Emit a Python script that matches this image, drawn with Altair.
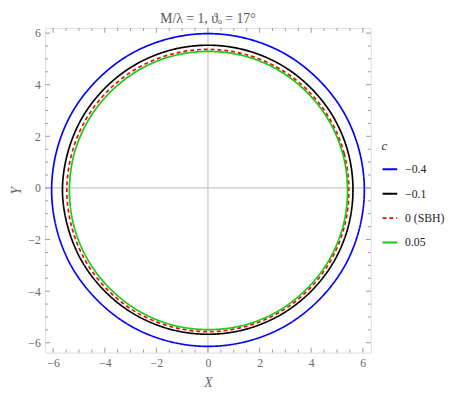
import altair as alt
import pandas as pd

# ---- data ----
curve_names = ["−0.4", "−0.1", "0 (SBH)", "0.05"]
curve_colors = ["#0000ff", "#000000", "#ff0000", "#11cc11"]

blue_x = [6.06, 5.85, 5.25, 4.28, 3.03, 1.57, 0.0, -1.57, -3.03, -4.28, -5.25, -5.85,
          -6.06, -5.85, -5.25, -4.28, -3.03, -1.57, 0.0, 1.57, 3.03, 4.28, 5.25, 5.85]
blue_y = [-0.08, 1.49, 2.95, 4.20, 5.17, 5.77, 5.98, 5.77, 5.17, 4.20, 2.95, 1.49,
          -0.08, -1.65, -3.11, -4.36, -5.33, -5.93, -6.14, -5.93, -5.33, -4.36, -3.11, -1.65]

black_x = [5.62, 5.43, 4.87, 3.97, 2.81, 1.45, 0.0, -1.45, -2.81, -3.97, -4.87, -5.43,
           -5.64, -5.43, -4.87, -3.97, -2.81, -1.45, 0.0, 1.45, 2.81, 3.97, 4.87, 5.43]
black_y = [-0.07, 1.38, 2.73, 3.89, 4.78, 5.34, 5.53, 5.34, 4.78, 3.89, 2.73, 1.38,
           -0.07, -1.52, -2.87, -4.03, -4.92, -5.48, -5.67, -5.48, -4.92, -4.03, -2.87, -1.52]

red_x = [5.46, 5.28, 4.74, 3.87, 2.74, 1.42, 0.0, -1.42, -2.74, -3.87, -4.74, -5.28,
         -5.47, -5.28, -4.74, -3.87, -2.74, -1.42, 0.0, 1.42, 2.74, 3.87, 4.74, 5.28]
red_y = [-0.10, 1.32, 2.64, 3.77, 4.64, 5.18, 5.37, 5.18, 4.64, 3.77, 2.64, 1.32,
         -0.10, -1.52, -2.84, -3.97, -4.84, -5.38, -5.57, -5.38, -4.84, -3.97, -2.84, -1.52]

green_x = [5.41, 5.23, 4.69, 3.83, 2.72, 1.42, 0.02, -1.38, -2.68, -3.79, -4.65, -5.19,
           -5.37, -5.19, -4.65, -3.79, -2.68, -1.38, 0.02, 1.42, 2.72, 3.83, 4.69, 5.23]
green_y = [-0.10, 1.30, 2.60, 3.71, 4.57, 5.11, 5.29, 5.11, 4.57, 3.71, 2.60, 1.30,
           -0.10, -1.50, -2.80, -3.91, -4.77, -5.31, -5.49, -5.31, -4.77, -3.91, -2.80, -1.50]

major_ticks = [-6, -4, -2, 0, 2, 4, 6]
minor_ticks = [-5.5, -5, -4.5, -3.5, -3, -2.5, -1.5, -1, -0.5, 0.5, 1, 1.5,
               2.5, 3, 3.5, 4.5, 5, 5.5]

# ---- build table ----
rows = []
for name, xs, ys in zip(curve_names,
                        [blue_x, black_x, red_x, green_x],
                        [blue_y, black_y, red_y, green_y]):
    for i, (xv, yv) in enumerate(zip(xs, ys)):
        rows.append({"c": name, "i": i, "X": xv, "Y": yv})
df = pd.DataFrame(rows)

W, H = 333, 332
FONT = "Liberation Serif"
GRAY = "#9a9a9a"
LAB = "#666666"

xscale = alt.Scale(domain=[-6.31, 6.31], nice=False, zero=False)
yscale = alt.Scale(domain=[-6.38, 6.2], nice=False, zero=False)

xaxis = alt.Axis(values=major_ticks, ticks=False, domain=False, grid=False,
                 labelFont=FONT, labelFontSize=12, labelColor=LAB, labelPadding=5,
                 title="X", titleFont=FONT, titleFontStyle="italic",
                 titleFontWeight="normal", titleFontSize=14, titleColor=LAB,
                 titlePadding=8)
yaxis = alt.Axis(values=major_ticks, ticks=False, domain=False, grid=False,
                 labelFont=FONT, labelFontSize=12, labelColor=LAB, labelPadding=5,
                 title="Y", titleFont=FONT, titleFontStyle="italic",
                 titleFontWeight="normal", titleFontSize=14, titleColor=LAB,
                 titlePadding=4)

legend = alt.Legend(
    title="c", orient="none", legendX=344, legendY=115,
    titleFont=FONT, titleFontStyle="italic", titleFontWeight="normal",
    titleFontSize=13, titleColor="#333333", titlePadding=8,
    labelFont=FONT, labelFontSize=12, labelColor="#222222", labelOffset=7,
    symbolType="stroke", symbolSize=225, symbolStrokeWidth=2, rowPadding=10,
    padding=0,
)

curves = alt.Chart(df).mark_line(interpolate="cardinal-closed", strokeWidth=1.7).encode(
    x=alt.X("X:Q", scale=xscale, axis=xaxis),
    y=alt.Y("Y:Q", scale=yscale, axis=yaxis),
    color=alt.Color("c:N", scale=alt.Scale(domain=curve_names, range=curve_colors), legend=legend),
    strokeDash=alt.StrokeDash("c:N", scale=alt.Scale(domain=curve_names,
                                                      range=[[1, 0], [1, 0], [4, 3], [1, 0]]),
                              legend=legend),
    order="i:Q",
)

zero_df = pd.DataFrame({"z": [0]})
zx = alt.Chart(zero_df).mark_rule(color="#b8b8b8", strokeWidth=1).encode(
    x=alt.X("z:Q", scale=xscale, axis=xaxis))
zy = alt.Chart(zero_df).mark_rule(color="#b8b8b8", strokeWidth=1).encode(
    y=alt.Y("z:Q", scale=yscale, axis=yaxis))

maj = pd.DataFrame({"v": major_ticks})
mnr = pd.DataFrame({"v": minor_ticks})


def xticks(d, ln):
    base = alt.Chart(d).mark_rule(color=GRAY, strokeWidth=1)
    b = base.encode(x=alt.X("v:Q", scale=xscale, axis=xaxis), y=alt.value(H), y2=alt.value(H - ln))
    t = base.encode(x=alt.X("v:Q", scale=xscale, axis=xaxis), y=alt.value(0), y2=alt.value(ln))
    return [b, t]


def yticks(d, ln):
    base = alt.Chart(d).mark_rule(color=GRAY, strokeWidth=1)
    l = base.encode(y=alt.Y("v:Q", scale=yscale, axis=yaxis), x=alt.value(0), x2=alt.value(ln))
    r = base.encode(y=alt.Y("v:Q", scale=yscale, axis=yaxis), x=alt.value(W), x2=alt.value(W - ln))
    return [l, r]


layers = [zx, zy] + xticks(maj, 5) + xticks(mnr, 3) + yticks(maj, 5) + yticks(mnr, 3) + [curves]

chart = alt.layer(*layers).properties(
    width=W, height=H,
    title=alt.TitleParams("M/λ = 1, ϑₒ = 17°", font=FONT, fontSize=14, fontWeight="normal",
                          color="#555555", offset=1, anchor="middle"),
    padding={"left": 2, "top": 0, "right": 5, "bottom": 0},
).configure_view(stroke=GRAY, strokeWidth=1).configure(background="white")

chart.save("out.html", embed_options={"renderer": "svg", "actions": False})
